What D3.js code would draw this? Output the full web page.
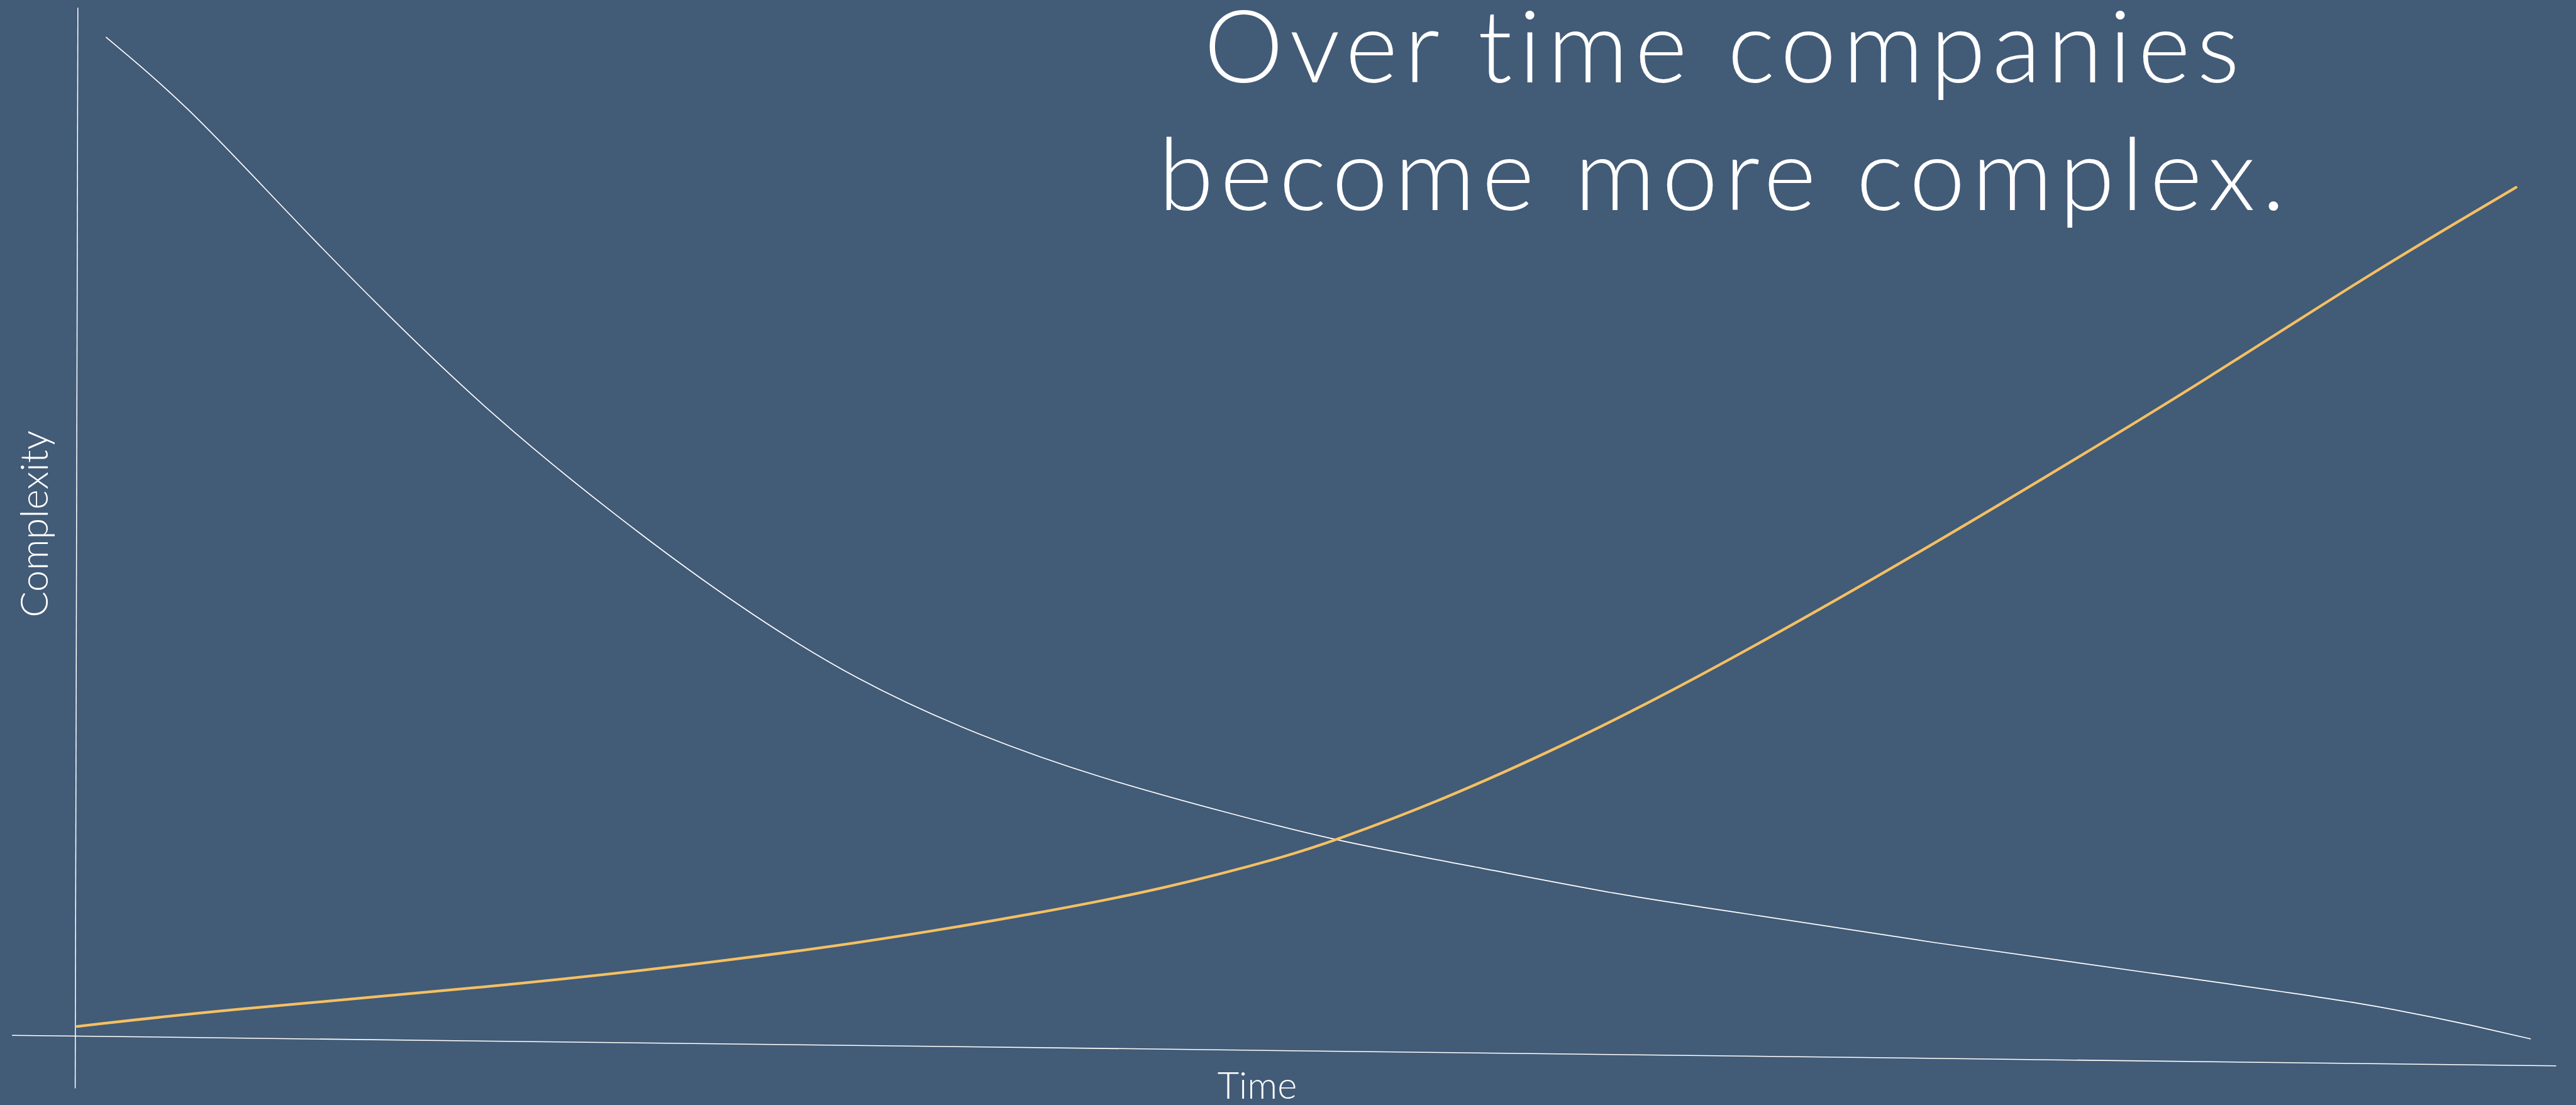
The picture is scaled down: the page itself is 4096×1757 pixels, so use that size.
<!DOCTYPE html>
<html>
<head>
<meta charset="utf-8">
<script src="https://cdn.jsdelivr.net/npm/d3@7"></script>
<style>
  html, body { margin: 0; padding: 0; background: #425B77; overflow: hidden; }
  text { font-family: Lato, "Open Sans", sans-serif; fill: #ffffff; }
</style>
</head>
<body>
<svg id="chart" width="4096" height="1757"></svg>
<script>
// values (time 0..100, complexity 0..100)
const fallingTime  = [1.3, 4.5, 8.5, 12.5, 17.0, 22.0, 27.0, 31.8, 36.8, 41.8, 46.8, 51.2, 56.7, 63.0, 66.6, 75.5, 84.4, 93.3, 97.8, 99.8];
const fallingValue = [98.5, 92.2, 82.1, 72.4, 62.2, 52.6, 43.9, 36.8, 31.5, 27.4, 24.2, 21.5, 19.1, 16.2, 15.0, 11.7, 8.8, 5.9, 3.6, 2.5];

const risingTime  = [0.13, 5.7, 17.0, 23.7, 31.8, 39.3, 44.3, 49.3, 51.2, 55.5, 60.5, 65.5, 73.3, 80.0, 86.7, 93.3, 99.2];
const risingValue = [3.7, 5.2, 7.5, 9.2, 11.6, 14.6, 16.9, 20.0, 21.5, 25.3, 30.6, 36.5, 46.8, 56.2, 65.8, 75.9, 84.1];

const titleLines = ["Over time companies", "become more complex."];
const xLabel = "Time";
const yLabel = "Complexity";

// everything below is laid out in reference pixels, then shrunk to the window
const k = 0.851;
const svg = d3.select('#chart');

svg.append('rect')
  .attr('width', 4096)
  .attr('height', 1757)
  .attr('fill', '#425B77');

const g = svg.append('g').attr('transform', `scale(${k})`);

const xScale = d3.scaleLinear().domain([0, 100]).range([138, 4738]);
const yScale = d3.scaleLinear().domain([0, 100]).range([1990, 40]);

// axes: plain lines, no ticks, the x one leans a little
const xAxis = d3.axisBottom(d3.scaleLinear().range([22, 4776])).tickValues([]).tickSizeOuter(0);
const yAxis = d3.axisLeft(d3.scaleLinear().range([2033, 14])).tickValues([]).tickSizeOuter(0);

const tilt = Math.atan2(57, 4754) * 180 / Math.PI;
g.append('g')
  .attr('class', 'x-axis')
  .attr('transform', `translate(0, 1934) rotate(${tilt}, 22, 0)`)
  .call(xAxis);

g.append('g')
  .attr('class', 'y-axis')
  .attr('transform', `translate(140, 0) rotate(${Math.atan2(5, 2019) * 180 / Math.PI}, 0, 2033)`)
  .call(yAxis);

g.selectAll('.domain')
  .attr('stroke', '#ffffff')
  .attr('stroke-width', 1.8);

// basis curve smooths the hand-read points like the drawn original
const line = d3.line()
  .x(d => xScale(d[0]))
  .y(d => yScale(d[1]))
  .curve(d3.curveBasis);

g.append('path')
  .datum(d3.zip(fallingTime, fallingValue))
  .attr('fill', 'none')
  .attr('stroke', '#ffffff')
  .attr('stroke-width', 2)
  .attr('d', line);

g.append('path')
  .datum(d3.zip(risingTime, risingValue))
  .attr('fill', 'none')
  .attr('stroke', '#F4C063')
  .attr('stroke-width', 5)
  .attr('stroke-linecap', 'round')
  .attr('d', line);

// labels
g.append('text')
  .attr('x', 2349)
  .attr('y', 2053)
  .style('text-anchor', 'middle')
  .style('font-size', '70px')
  .style('font-weight', 300)
  .text(xLabel);

g.append('text')
  .attr('transform', 'translate(89, 979) rotate(-90)')
  .style('text-anchor', 'middle')
  .style('font-size', '72px')
  .style('font-weight', 300)
  .text(yLabel);

g.selectAll('.title')
  .data(titleLines)
  .join('text')
  .attr('class', 'title')
  .attr('x', 3223)
  .attr('y', (d, i) => 154 + i * 238)
  .style('text-anchor', 'middle')
  .style('font-size', '188px')
  .style('font-weight', 300)
  .style('letter-spacing', '12px')
  .text(d => d);
</script>
</body>
</html>
